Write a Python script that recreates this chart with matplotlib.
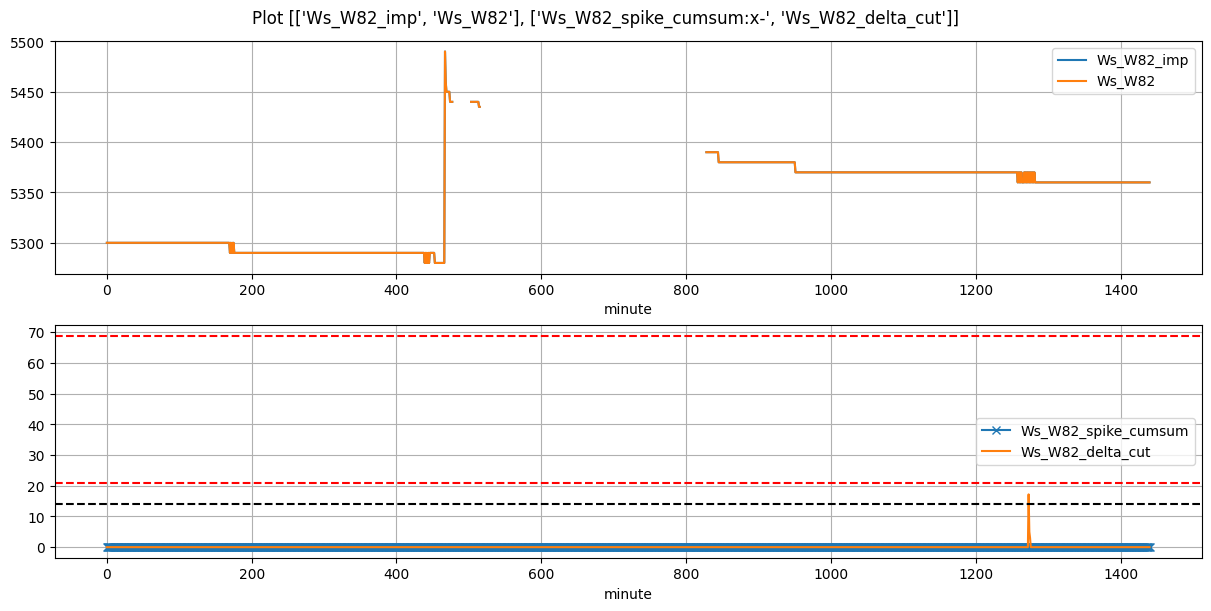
import numpy as np
import matplotlib
matplotlib.use("Agg")
import matplotlib.pyplot as plt

# minute axis
minutes = np.arange(0, 1441)

# Ws_W82 (first minute, last minute, value)
ws_runs = [
    (0, 169, 5300),
    (170, 176, [5290, 5300, 5290, 5300, 5290, 5300, 5290]),
    (177, 438, 5290),
    (439, 446, [5280, 5290, 5280, 5290, 5280, 5290, 5280, 5290]),
    (447, 452, 5290),
    (453, 466, 5280),
    (467, 467, 5490),
    (468, 468, 5460),
    (469, 473, 5450),
    (474, 477, 5440),
    (478, 502, np.nan),
    (503, 513, 5440),
    (514, 515, 5435),
    (516, 827, np.nan),
    (828, 844, 5390),
    (845, 950, 5380),
    (951, 1257, 5370),
    (1258, 1264, [5360, 5370, 5360, 5370, 5360, 5370, 5360]),
    (1265, 1266, 5360),
    (1267, 1273, [5370, 5360, 5370, 5360, 5370, 5360, 5370]),
    (1274, 1282, [5360, 5370, 5360, 5370, 5360, 5370, 5360, 5370, 5360]),
    (1283, 1440, 5360),
]

# delta_cut: zero except a spike near minute 1273
delta_spike_min = [1273, 1274, 1275]
delta_spike_val = [17.2, 5.0, 3.0]

# threshold lines on the lower panel
upper_red = 68.9
lower_red = 20.9
black_level = 13.9

ws = np.full(len(minutes), np.nan)
for a, b, v in ws_runs:
    ws[a:b + 1] = v
ws_imp = ws.copy()

spike_cumsum = np.zeros(len(minutes))
delta_cut = np.zeros(len(minutes))
delta_cut[delta_spike_min] = delta_spike_val

fig, axes = plt.subplots(2, 1, figsize=(12, 6), dpi=100, layout="constrained")
fig.suptitle("Plot [['Ws_W82_imp', 'Ws_W82'], ['Ws_W82_spike_cumsum:x-', 'Ws_W82_delta_cut']]")

ax = axes[0]
ax.plot(minutes, ws_imp, label="Ws_W82_imp")
ax.plot(minutes, ws, label="Ws_W82")
ax.set_xlabel("minute")
ax.grid(True)
ax.legend(loc="upper right")

ax = axes[1]
ax.plot(minutes, spike_cumsum, "x-", label="Ws_W82_spike_cumsum")
ax.plot(minutes, delta_cut, label="Ws_W82_delta_cut")
ax.axhline(upper_red, color="red", linestyle="--")
ax.axhline(lower_red, color="red", linestyle="--")
ax.axhline(black_level, color="black", linestyle="--")
ax.set_xlabel("minute")
ax.grid(True)
ax.legend(loc="center right")

plt.savefig("out.png", bbox_inches="tight", pad_inches=0.1)
